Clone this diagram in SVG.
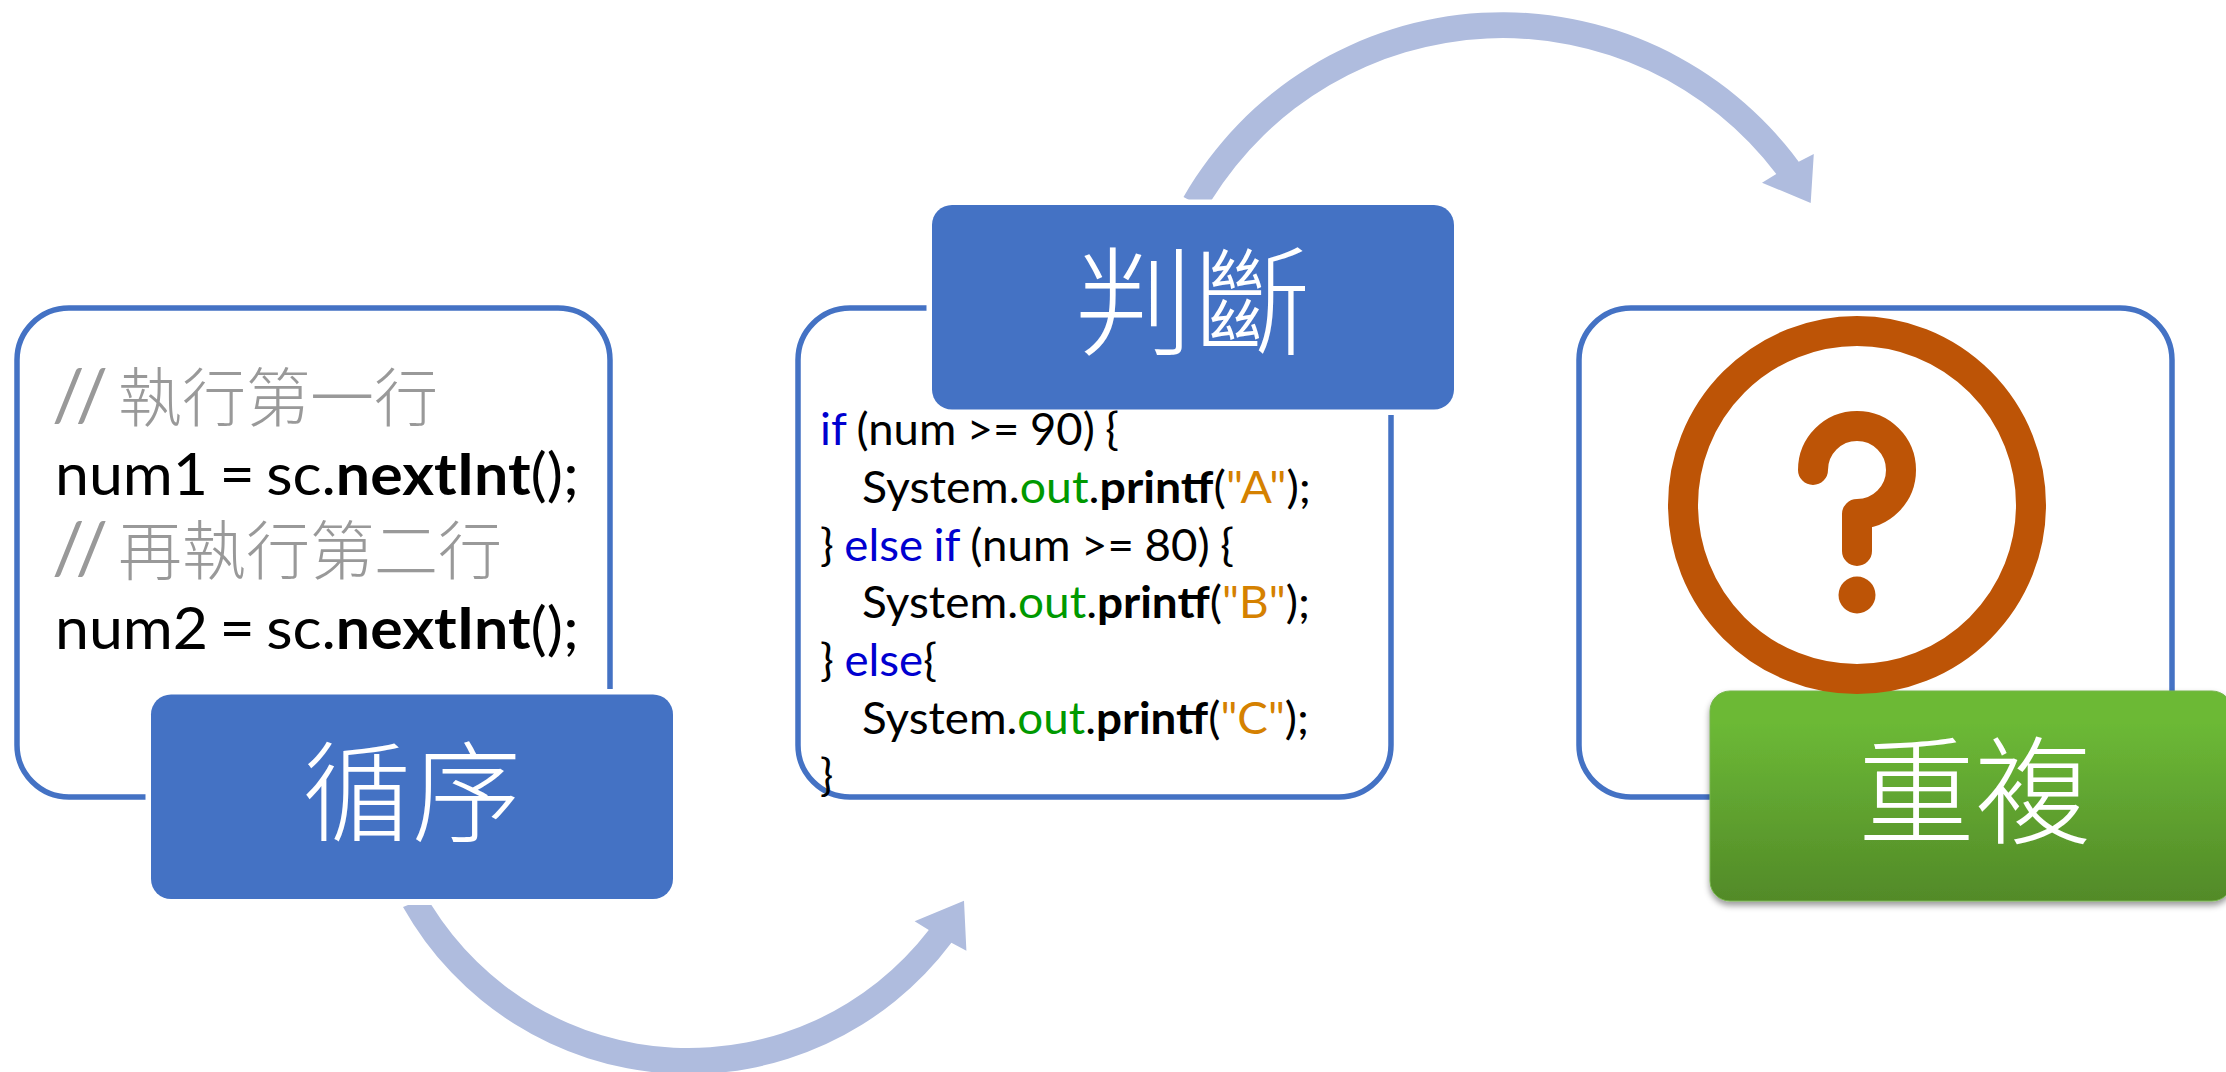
<svg xmlns="http://www.w3.org/2000/svg" width="2226" height="1072" viewBox="0 0 2226 1072">
<style>
text{font-family:"Lato","Noto Sans CJK TC",sans-serif;white-space:pre}
.box{fill:#fff;stroke:#4472C4;stroke-width:5.5}
.lab{fill:#4472C4;stroke:#fff;stroke-width:11;paint-order:stroke}
.arr{fill:#AFBCDE}
.cjk{font-family:"Noto Sans CJK TC",sans-serif;font-weight:300}
.big{fill:#fff;text-anchor:middle}
.c1{font-size:58px;fill:#000;word-spacing:-4px}
.cm{font-size:64px;fill:#999}
.sl{font-size:72px;letter-spacing:7px}
.c2{font-size:44px;fill:#000;word-spacing:-1px}
.kw{fill:#0000D0}.ob{fill:#009900}.st{fill:#D58100}.b{font-weight:700}
</style>
<defs>
<linearGradient id="g" x1="0" y1="0" x2="0" y2="1"><stop offset="0.15" stop-color="#6CB936"/><stop offset="1" stop-color="#528A28"/></linearGradient>
<filter id="sh" x="-5%" y="-5%" width="110%" height="115%"><feDropShadow dx="0" dy="4" stdDeviation="3" flood-color="#000" flood-opacity="0.4"/></filter>
</defs>
<g id="connectors">
<path class="arr" d="M431.4 905H408L403 907A328 328 0 0 0 951.4 942.7L966.4 950.7L964 900.7L914.6 921.3L928.8 930A303 303 0 0 1 431.4 905Z"/>
<path class="arr" d="M1211.6 200H1189L1183.5 197A368 368 0 0 1 1798.7 161.7L1813.8 154L1810.7 203L1762 182.7L1776.3 174A343 343 0 0 0 1211.6 200Z"/>
</g>
<g id="node-sequence">
<rect class="box" x="17" y="308" width="593" height="489" rx="52"/>
<text class="cm" y="421"><tspan class="sl" x="52" y="421">//</tspan><tspan class="cjk" x="118" y="421">執行第一行</tspan></text>
<text class="c1" x="55" y="495" textLength="524" lengthAdjust="spacingAndGlyphs">num1 = sc.<tspan class="b">nextInt</tspan>();</text>
<text class="cm" y="574"><tspan class="sl" x="52" y="574">//</tspan><tspan class="cjk" x="118" y="574">再執行第二行</tspan></text>
<text class="c1" x="55" y="649" textLength="524" lengthAdjust="spacingAndGlyphs">num2 = sc.<tspan class="b">nextInt</tspan>();</text>
<rect class="lab" x="151" y="694.5" width="522" height="204.5" rx="20"/>
<text class="cjk big" x="412" y="833" font-size="109">循序</text>
</g>
<g id="node-decision">
<rect class="box" x="798" y="308" width="593" height="489" rx="52"/>
<rect class="lab" x="932" y="205" width="522" height="204.5" rx="20"/>
<text class="cjk big" x="1193" y="346" font-size="118">判斷</text>
<text class="c2" x="820" y="445" textLength="299" lengthAdjust="spacingAndGlyphs"><tspan class="kw">if</tspan> (num &gt;= 90) {</text>
<text class="c2" x="862" y="503" textLength="449" lengthAdjust="spacingAndGlyphs">System.<tspan class="ob">out</tspan>.<tspan class="b">printf</tspan>(<tspan class="st">"A"</tspan>);</text>
<text class="c2" x="820" y="561" textLength="414" lengthAdjust="spacingAndGlyphs">} <tspan class="kw">else if</tspan> (num &gt;= 80) {</text>
<text class="c2" x="862" y="618" textLength="448" lengthAdjust="spacingAndGlyphs">System.<tspan class="ob">out</tspan>.<tspan class="b">printf</tspan>(<tspan class="st">"B"</tspan>);</text>
<text class="c2" x="820" y="676" textLength="117" lengthAdjust="spacingAndGlyphs">} <tspan class="kw">else</tspan>{</text>
<text class="c2" x="862" y="734" textLength="447" lengthAdjust="spacingAndGlyphs">System.<tspan class="ob">out</tspan>.<tspan class="b">printf</tspan>(<tspan class="st">"C"</tspan>);</text>
<text class="c2" x="820" y="791">}</text>
</g>
<g id="node-repeat">
<rect class="box" x="1579" y="308" width="593" height="489" rx="52"/>
<rect x="1710" y="691" width="522" height="210" rx="20" fill="url(#g)" stroke="#76B54C" stroke-width="1" filter="url(#sh)"/>
<g id="question-icon" fill="none" stroke="#BD5406" stroke-width="30" stroke-linecap="round" stroke-linejoin="round">
<circle cx="1857" cy="505" r="174"/>
<path d="M1813 470A44 44 0 1 1 1857 514V551"/>
<circle cx="1857" cy="595" r="18.5" fill="#BD5406" stroke="none"/>
</g>
<text class="cjk big" x="1975" y="835" font-size="117">重複</text>
</g>
</svg>
